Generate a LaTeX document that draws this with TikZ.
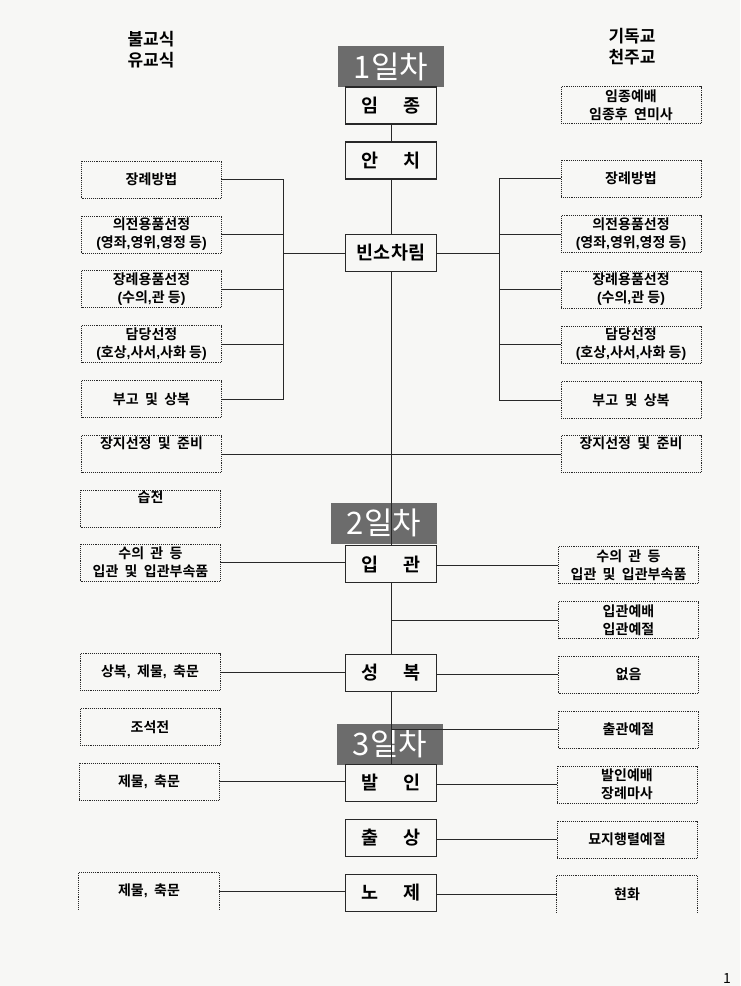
\documentclass[tikz,border=0pt]{standalone}
\usepackage{fontspec}
\setmainfont{Noto Sans CJK KR}[BoldFont={Noto Sans CJK KR Bold}]
\newfontfamily\puncfont{Liberation Sans}
\newcommand\pc[1]{{\puncfont#1}}
\usepackage[rgb]{xcolor}
\definecolor{daygray}{RGB}{108,108,108}
\definecolor{paper}{RGB}{247,247,245}
\definecolor{ink}{RGB}{40,40,40}

\begin{document}
\begin{tikzpicture}[x=1pt,y=-1pt,
  dotline/.style={draw=ink,densely dotted,line width=0.9pt},
  mainbox/.style={draw=ink,line width=1.4pt,minimum width=91pt,minimum height=37pt,inner sep=0pt,font=\fontsize{18.5}{20}\selectfont\bfseries},
  openbox/.style={minimum width=140pt,minimum height=37pt,inner sep=0pt,align=center,font=\fontsize{14}{18}\selectfont\bfseries},
  sidebox/.style={openbox,dotline},
  daybox/.style={fill=daygray,text=white,minimum width=106pt,minimum height=41pt,inner sep=0pt,font=\fontsize{31}{31}\selectfont},
  link/.style={draw=ink,line width=0.9pt}]
\fill[paper] (0,0) rectangle (740,986);
\useasboundingbox (0,0) rectangle (740,986);

\node[font=\fontsize{17}{21}\selectfont\bfseries,align=center] (lhead) at (151,50) {불교식\\유교식};
\node[font=\fontsize{17}{21}\selectfont\bfseries,align=center] (rhead) at (632,47) {기독교\\천주교};

\node[daybox] (day1) at (391,66.5) {1일차};
\node[daybox] (day2) at (384,523) {2일차};
\node[daybox] (day3) at (390,744) {3일차};

\node[mainbox] (imj) at (391,105.5) {임\hspace{1.4em}종};
\node[mainbox] (anchi) at (391,160.5) {안\hspace{1.4em}치};
\node[mainbox] (binso) at (391,253) {빈소차림};
\node[mainbox] (ipgwan) at (391,564) {입\hspace{1.4em}관};
\node[mainbox] (seong) at (391,673) {성\hspace{1.4em}복};
\node[mainbox] (barin) at (391,783) {발\hspace{1.4em}인};
\node[mainbox] (chul) at (391,838) {출\hspace{1.4em}상};
\node[mainbox] (noje) at (391,893) {노\hspace{1.4em}제};

\node[sidebox] (lmethod) at (151.5,179.5) {장례방법};
\node[sidebox] (lgoods) at (151.5,234.5) {의전용품선정\\\pc{(}영좌\pc{,}영위\pc{,}영정 등\pc{)}};
\node[sidebox] (lsupply) at (151.5,289) {장례용품선정\\\pc{(}수의\pc{,}관 등\pc{)}};
\node[sidebox] (lstaff) at (151.5,344) {담당선정\\\pc{(}호상\pc{,}사서\pc{,}사화 등\pc{)}};
\node[sidebox] (lnotice) at (151.5,399) {부고 \ 및 \ 상복};
\node[sidebox] (lburial) at (151.5,454) {장지선정 \ 및 \ 준비\\\strut};
\node[sidebox] (lwash) at (150.5,508.5) {습전\\\strut};
\node[sidebox] (lcoffin) at (150.5,562.5) {수의 \ 관 \ 등\\입관 \ 및 \ 입관부속품};
\node[sidebox] (lmourn) at (150,672) {상복\pc{,} \ 제물\pc{,} \ 축문};
\node[sidebox] (lmeal) at (150,727) {조석전};
\node[sidebox] (loffer) at (149,781.5) {제물\pc{,} \ 축문};
\node[openbox] (lroad) at (149,891) {제물\pc{,} \ 축문};
\draw[dotline] (lroad.south west) -- (lroad.north west) -- (lroad.north east) -- (lroad.south east);

\node[sidebox] (rprayer) at (631,105) {임종예배\\임종후 \ 연미사};
\node[sidebox] (rmethod) at (631,178.5) {장례방법};
\node[sidebox] (rgoods) at (631,234) {의전용품선정\\\pc{(}영좌\pc{,}영위\pc{,}영정 등\pc{)}};
\node[sidebox] (rsupply) at (631,289.5) {장례용품선정\\\pc{(}수의\pc{,}관 등\pc{)}};
\node[sidebox] (rstaff) at (631,344.5) {담당선정\\\pc{(}호상\pc{,}사서\pc{,}사화 등\pc{)}};
\node[sidebox] (rnotice) at (631,400) {부고 \ 및 \ 상복};
\node[sidebox] (rburial) at (631,454) {장지선정 \ 및 \ 준비\\\strut};
\node[sidebox] (rcoffin) at (628.5,565) {수의 \ 관 \ 등\\입관 \ 및 \ 입관부속품};
\node[sidebox] (rrite) at (628.5,620) {입관예배\\입관예절};
\node[sidebox] (rnone) at (628.5,674.5) {없음};
\node[sidebox] (rout) at (628.5,729.5) {출관예절};
\node[sidebox] (rmass) at (627,784.5) {발인예배\\장례마사};
\node[sidebox] (rgrave) at (627,839.5) {묘지행렬예절};
\node[openbox] (rflower) at (627,894) {현화};
\draw[dotline] (rflower.south west) -- (rflower.north west) -- (rflower.north east) -- (rflower.south east);

\node[font=\fontsize{14}{14}\selectfont] (page) at (727,978) {1};

\coordinate (lbar) at (283,0);
\coordinate (rbar) at (499,0);

\draw[link] (imj) -- (anchi);
\draw[link] (anchi) -- (binso);
\draw[link] (binso) -- (ipgwan);
\draw[link] (ipgwan) -- (seong);
\draw[link] (seong) -- (barin);

\draw[link] (lmethod.east) -- (lmethod.east -| lbar) -- (lnotice.east -| lbar) -- (lnotice.east);
\foreach \b in {lgoods,lsupply,lstaff}
  \draw[link] (\b.east) -- (\b.east -| lbar);
\draw[link] (binso.west) -- (binso.west -| lbar);
\draw[link] (rmethod.west) -- (rmethod.west -| rbar) -- (rnotice.west -| rbar) -- (rnotice.west);
\foreach \b in {rgoods,rsupply,rstaff}
  \draw[link] (\b.west) -- (\b.west -| rbar);
\draw[link] (binso.east) -- (binso.east -| rbar);

\draw[link] (lburial.east) -- (rburial.west);
\draw[link] (lcoffin.east) -- (lcoffin.east -| ipgwan.west);
\draw[link] (rcoffin.west) -- (rcoffin.west -| ipgwan.east);
\draw[link] (rrite.west) -- (rrite.west -| ipgwan.center);
\draw[link] (lmourn.east) -- (lmourn.east -| seong.west);
\draw[link] (rnone.west) -- (rnone.west -| seong.east);
\draw[link] (rout.west) -- (rout.west -| seong.center);
\draw[link] (loffer.east) -- (loffer.east -| barin.west);
\draw[link] (rmass.west) -- (rmass.west -| barin.east);
\draw[link] (rgrave.west) -- (rgrave.west -| chul.east);
\draw[link] (lroad.east) -- (lroad.east -| noje.west);
\draw[link] (rflower.west) -- (rflower.west -| noje.east);

\end{tikzpicture}
\end{document}
